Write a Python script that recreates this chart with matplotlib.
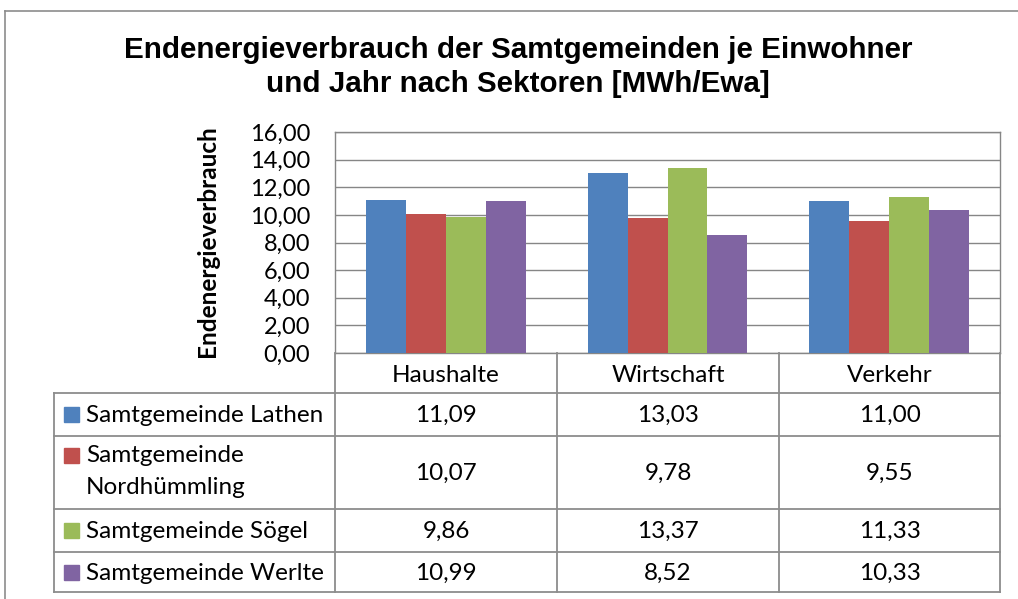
import matplotlib
matplotlib.use("Agg")
import matplotlib.pyplot as plt
from matplotlib.patches import Rectangle

categories = ["Haushalte", "Wirtschaft", "Verkehr"]
series_names = ["Samtgemeinde Lathen", "Samtgemeinde\nNordhümmling",
                "Samtgemeinde Sögel", "Samtgemeinde Werlte"]
lathen = [11.09, 13.03, 11.00]
nordhuemmling = [10.07, 9.78, 9.55]
soegel = [9.86, 13.37, 11.33]
werlte = [10.99, 8.52, 10.33]
series_values = [lathen, nordhuemmling, soegel, werlte]
colors = ["#4F81BD", "#C0504D", "#9BBB59", "#8064A2"]
yticks = [0, 2, 4, 6, 8, 10, 12, 14, 16]
title_lines = ["Endenergieverbrauch der Samtgemeinden je Einwohner",
               "und Jahr nach Sektoren [MWh/Ewa]"]
ylabel = "Endenergieverbrauch"

W, H = 1018, 599
fig = plt.figure(figsize=(W / 100, H / 100), dpi=100)
fig.patch.set_facecolor("white")

def fx(px):
    return px / W

def fy(py):
    return 1 - py / H

grid_c = "#868686"
FONT = "Lato"

# bar axes
L, R, T, B = 335, 1000, 132, 353
ax = fig.add_axes([fx(L), fy(B), fx(R - L), (B - T) / H])
ax.set_xlim(-0.5, len(categories) - 0.5)
ax.set_ylim(0, 16)
bw = 0.18
for i, (vals, c) in enumerate(zip(series_values, colors)):
    xs = [k + (i - 1.5) * bw for k in range(len(categories))]
    ax.bar(xs, vals, width=bw, color=c, edgecolor="none", zorder=3)
ax.set_yticks(yticks)
ax.set_yticklabels([f"{v:.2f}".replace(".", ",") for v in yticks],
                   fontsize=17, family=FONT)
ax.tick_params(axis="y", length=0, pad=18)
ax.set_xticks([])
ax.grid(axis="y", color=grid_c, linewidth=1, zorder=0)
for s in ["top", "left", "right", "bottom"]:
    ax.spines[s].set_color(grid_c)
    ax.spines[s].set_linewidth(1)

# overlay in pixel coordinates
ov = fig.add_axes([0, 0, 1, 1], zorder=5)
ov.set_xlim(0, W)
ov.set_ylim(H, 0)
ov.axis("off")
ov.patch.set_alpha(0)

# y axis label
ov.text(208, 241, ylabel, rotation=90, ha="center", va="center",
        fontsize=17.5, family=FONT, fontweight="bold")

# outer chart border (only top and left visible)
ov.plot([5, W + 20], [11, 11], color="#8c8c8c", lw=1.2)
ov.plot([5, 5], [11, H + 20], color="#8c8c8c", lw=1.2)

for line, yy in zip(title_lines, [50, 84]):
    ov.text(518, yy, line, ha="center", va="center", fontsize=21.3,
            fontweight="bold", family="Liberation Sans")

# table
cols = [335, 557, 779, 1000]
rows = [393, 436, 509, 552, 592]
lw_t = 1.3
tc = "#8c8c8c"
for x in cols:
    ov.plot([x, x], [B, rows[-1]], color=tc, lw=lw_t)
ov.plot([54, 54], [rows[0], rows[-1]], color=tc, lw=lw_t)
for y in rows:
    ov.plot([54, cols[-1]], [y, y], color=tc, lw=lw_t)
for k, cat in enumerate(categories):
    ov.text((cols[k] + cols[k + 1]) / 2, (B + rows[0]) / 2 + 2, cat,
            ha="center", va="center", fontsize=17.5, family=FONT)

for i, (name, vals, c) in enumerate(zip(series_names, series_values, colors)):
    y0, y1 = rows[i], rows[i + 1]
    yc = (y0 + y1) / 2
    if "\n" in name:
        first, second = name.split("\n")
        ov.add_patch(Rectangle((64, 448), 15, 15, color=c))
        ov.text(86, 456, first, ha="left", va="center", fontsize=17.5, family=FONT)
        ov.text(86, 488, second, ha="left", va="center", fontsize=17.5, family=FONT)
    else:
        ov.add_patch(Rectangle((64, yc - 7.5), 15, 15, color=c))
        ov.text(86, yc + 1, name, ha="left", va="center", fontsize=17.5, family=FONT)
    for k, v in enumerate(vals):
        ov.text((cols[k] + cols[k + 1]) / 2, yc + 1, f"{v:.2f}".replace(".", ","),
                ha="center", va="center", fontsize=17.5, family=FONT)

fig.savefig("out.png", dpi=100, facecolor="white")
